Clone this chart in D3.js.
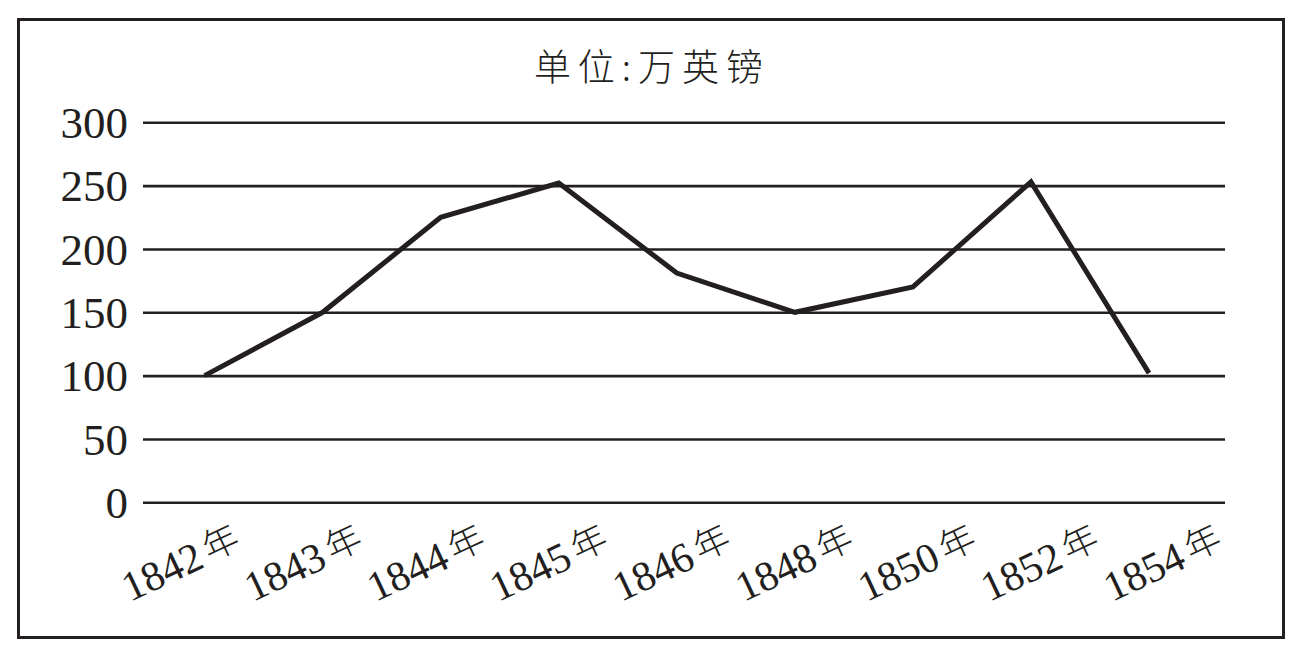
<!DOCTYPE html>
<html>
<head>
<meta charset="utf-8">
<script src="https://cdn.jsdelivr.net/npm/d3@7"></script>
<style>
  html, body { margin: 0; padding: 0; background: #fff; }
  svg { display: block; }
</style>
</head>
<body>
<svg id="chart" width="1299" height="653"></svg>
<script>
const years = ["1842", "1843", "1844", "1845", "1846", "1848", "1850", "1852", "1854"];
const values = [100, 150, 225, 252, 181, 150, 170, 253, 102];
const yTicks = [0, 50, 100, 150, 200, 250, 300];
const titleText = "单位:万英镑";
const yearSuffix = "年";

const svg = d3.select("#chart");
const ink = "#231f20";

// border
svg.append("rect")
  .attr("x", 18.5).attr("y", 19.5)
  .attr("width", 1265).attr("height", 618)
  .attr("fill", "none").attr("stroke", ink).attr("stroke-width", 3);

const left = 143, right = 1225;
const y = d3.scaleLinear().domain([0, 300]).range([502.3, 122.3]);
const x = d3.scalePoint().domain(years).range([204.6, 1149]);
const xLab = d3.scalePoint().domain(years).range([130, 1112]);

// y axis with gridlines
const yAxis = d3.axisLeft(y)
  .tickValues(yTicks)
  .tickSize(-(right - left))
  .tickPadding(15)
  .tickFormat(d3.format("d"));

const gy = svg.append("g")
  .attr("transform", `translate(${left},0)`)
  .call(yAxis);
gy.select(".domain").remove();
gy.selectAll(".tick line")
  .attr("stroke", ink).attr("stroke-width", 2.6);
gy.selectAll(".tick text")
  .attr("fill", ink)
  .attr("font-family", "'Liberation Serif', 'Times New Roman', serif")
  .attr("font-size", 45)
  .attr("dy", "0.34em");

// title
svg.append("text")
  .attr("x", 652).attr("y", 81)
  .attr("text-anchor", "middle")
  .attr("font-family", "'Noto Sans CJK SC', sans-serif")
  .attr("font-weight", 300)
  .attr("font-size", 37)
  .attr("letter-spacing", 7)
  .attr("fill", ink)
  .text(titleText);

// line
const line = d3.line()
  .x((d, i) => x(years[i]))
  .y(d => y(d));

svg.append("path")
  .datum(values)
  .attr("d", line)
  .attr("fill", "none")
  .attr("stroke", ink)
  .attr("stroke-width", 5)
  .attr("stroke-linejoin", "miter");

// x labels
const lab = svg.append("g").selectAll("text")
  .data(years)
  .join("text")
  .attr("transform", d => `translate(${xLab(d)},602) rotate(-25)`)
  .attr("fill", ink)
  .attr("font-family", "'Liberation Serif', 'Times New Roman', serif")
  .attr("font-size", 42);
lab.append("tspan").text(d => d);
lab.append("tspan")
  .attr("dx", 5)
  .attr("dy", -3)
  .attr("font-family", "'Noto Sans CJK SC', sans-serif")
  .attr("font-weight", 300)
  .attr("font-size", 36)
  .text(yearSuffix);
</script>
</body>
</html>
